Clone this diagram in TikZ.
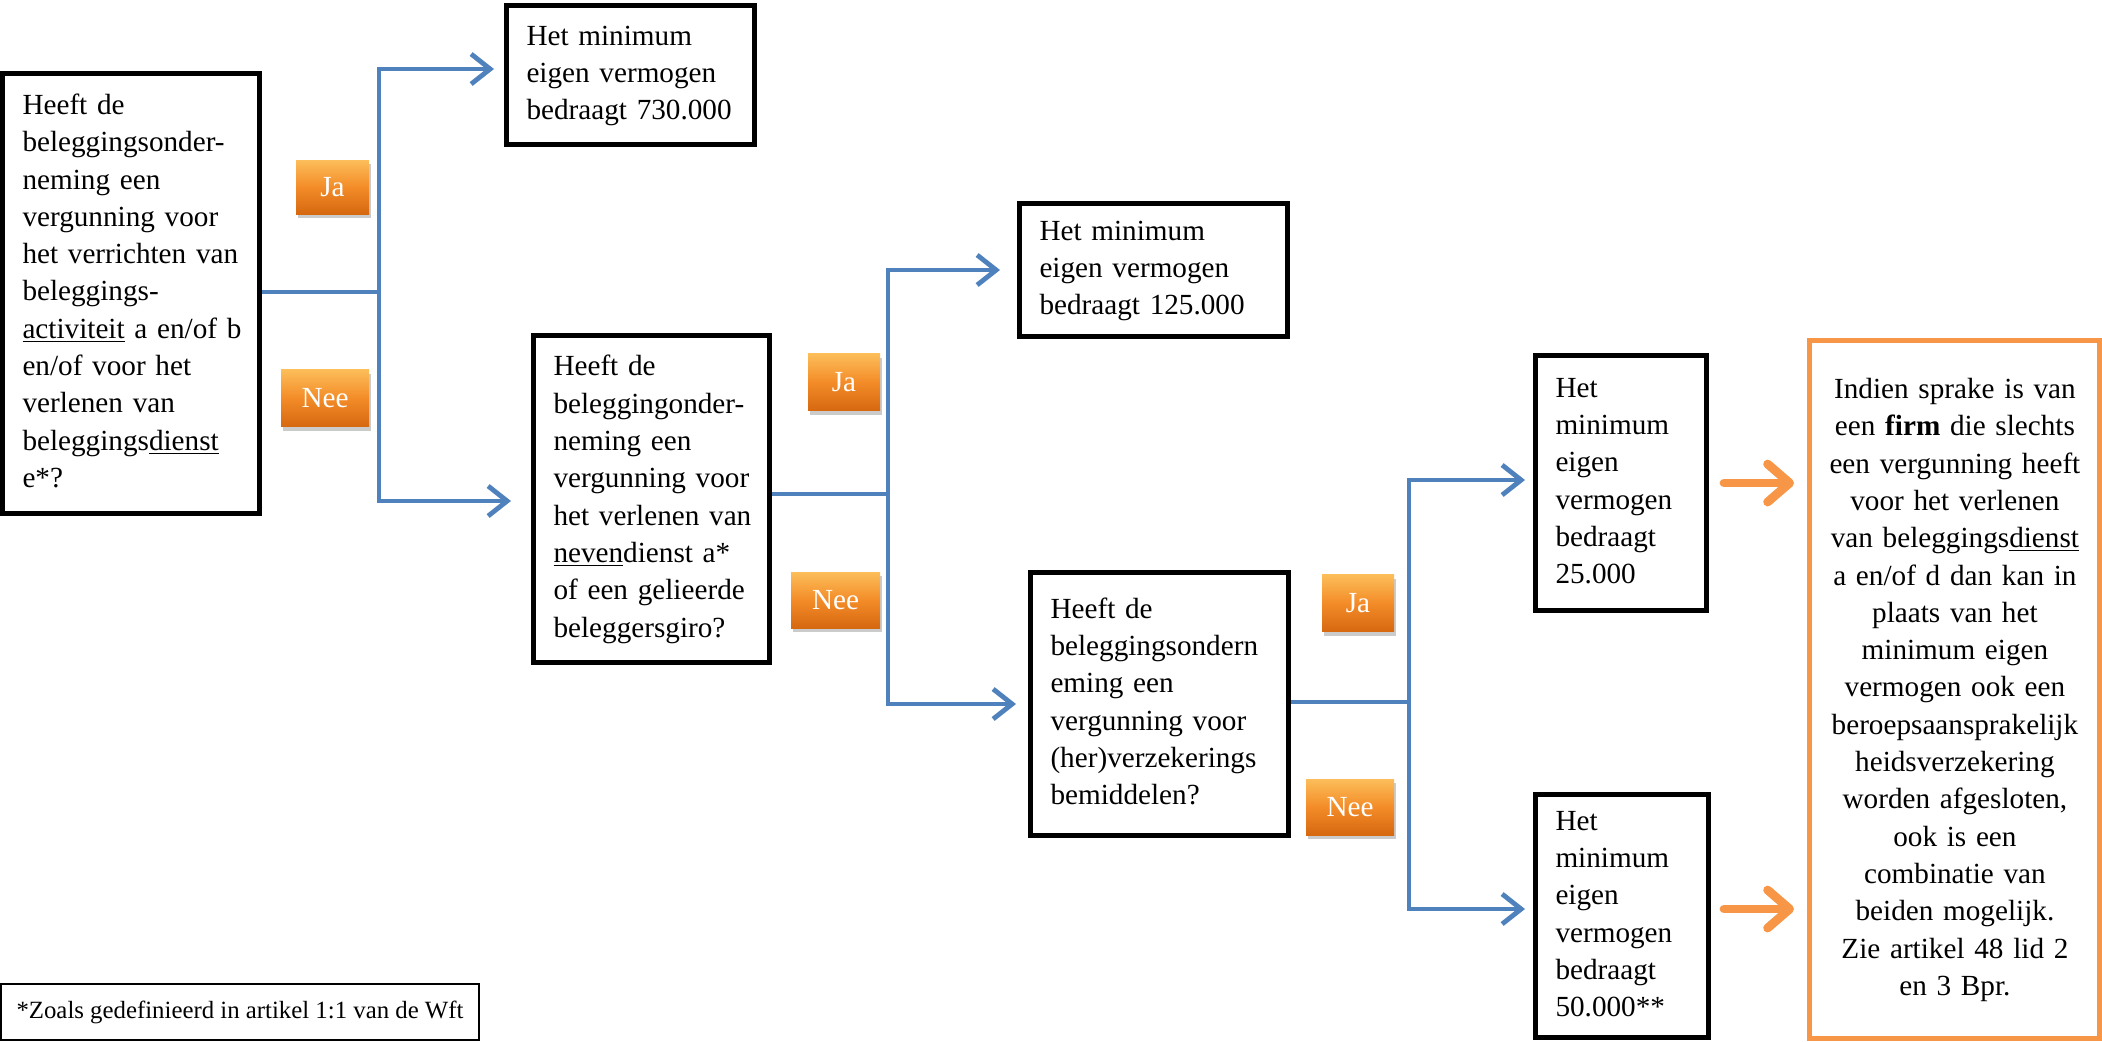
\documentclass[tikz,border=0pt]{standalone}
\usepackage{fontspec}
\setmainfont{Liberation Serif}
\usetikzlibrary{arrows.meta,shadows,calc}

\definecolor{lineblue}{RGB}{79,129,189}
\definecolor{accorange}{RGB}{247,150,70}
\definecolor{lbltop}{RGB}{252,190,90}
\definecolor{lblmid}{RGB}{243,140,40}
\definecolor{lblbot}{RGB}{214,104,16}

\newcommand{\boxlines}[1]{\begin{tabular}{@{}l@{}}#1\end{tabular}}
\newcommand{\boxcentre}[1]{\begin{tabular}{@{}c@{}}#1\end{tabular}}

\begin{document}
\begin{tikzpicture}[x=0.5pt,y=-0.5pt,
  qbox/.style={draw=black, line width=2.5pt, fill=white, inner xsep=10pt, inner ysep=0pt,
    font=\fontsize{14.6}{18.65}\selectfont, align=left},
  obox/.style={draw=accorange, line width=2.5pt, fill=white, inner xsep=10pt, inner ysep=0pt,
    font=\fontsize{14.6}{18.65}\selectfont, align=center},
  yn/.style={top color=lbltop, bottom color=lblbot, middle color=lblmid, text=white,
    inner sep=0pt, font=\fontsize{14.6}{18}\selectfont,
    drop shadow={shadow xshift=1pt, shadow yshift=-2pt, fill=black!45, opacity=.45}},
  conn/.style={draw=lineblue, line width=2.4pt},
  connarrow/.style={conn, -{Straight Barb[length=9.5pt,width=15pt]}},
  oarrow/.style={draw=accorange, line width=4.4pt, line cap=round,
    -{Straight Barb[length=11pt,width=19pt,round]}},
  note/.style={draw=black, line width=0.75pt, fill=white, inner sep=0pt,
    font=\fontsize{12.4}{15}\selectfont, align=center}
]
\useasboundingbox (0,0) rectangle (2102,1041);

% question and result boxes
\node[qbox, minimum width=128.5pt, minimum height=220pt, text width=108.5pt] (b1) at (131,293.5)
  {\boxlines{Heeft de\\ beleggingsonder-\\ neming een\\ vergunning voor\\ het verrichten van\\ beleggings-\\ \underline{activiteit} a en/of b\\ en/of voor het\\ verlenen van\\ beleggings\underline{dienst}\\ e*?}};

\node[qbox, minimum width=124pt, minimum height=69.5pt, text width=104pt] (b730) at (630.5,75)
  {\boxlines{Het minimum\\ eigen vermogen\\ bedraagt 730.000}};

\node[qbox, minimum width=118pt, minimum height=163.5pt, text width=98pt] (b2) at (651.5,499)
  {\boxlines{Heeft de\\ beleggingonder-\\ neming een\\ vergunning voor\\ het verlenen van\\ \underline{neven}dienst a*\\ of een gelieerde\\ beleggersgiro?}};

\node[qbox, minimum width=134pt, minimum height=66.5pt, text width=114pt] (b125) at (1153.5,270)
  {\boxlines{Het minimum\\ eigen vermogen\\ bedraagt 125.000}};

\node[qbox, minimum width=129pt, minimum height=131.5pt, text width=109pt] (b4) at (1159.5,704)
  {\boxlines{Heeft de\\ beleggingsondern\\ eming een\\ vergunning voor\\ (her)verzekerings\\ bemiddelen?}};

\node[qbox, minimum width=85.5pt, minimum height=127.5pt, text width=65.5pt] (b25) at (1621,483)
  {\boxlines{Het\\ minimum\\ eigen\\ vermogen\\ bedraagt\\ 25.000}};

\node[qbox, minimum width=86.5pt, minimum height=121.5pt, text width=66.5pt] (b50) at (1622,916)
  {\boxlines{Het\\ minimum\\ eigen\\ vermogen\\ bedraagt\\ 50.000**}};

\node[obox, minimum width=145pt, minimum height=349pt, text width=125pt] (ob) at (1954.5,689.5)
  {\boxcentre{Indien sprake is van\\ een \textbf{firm} die slechts\\ een vergunning heeft\\ voor het verlenen\\ van beleggings\underline{dienst}\\ a en/of d dan kan in\\ plaats van het\\ minimum eigen\\ vermogen ook een\\ beroepsaansprakelijk\\ heidsverzekering\\ worden afgesloten,\\ ook is een\\ combinatie van\\ beiden mogelijk.\\ Zie artikel 48 lid 2\\ en 3 Bpr.}};

\node[note, minimum width=239pt, minimum height=28pt] (fn) at (240,1012)
  {*Zoals gedefinieerd in artikel 1:1 van de Wft};

% junctions
\coordinate (j1) at (379,292);
\coordinate (j2) at (888,494);
\coordinate (j3) at (1409,702);
\coordinate (o2) at ($(b50.east)+(0,-7)$);

% blue connectors
\draw[conn] (b1.east |- j1) -- (j1);
\draw[connarrow, shorten >=5pt] (j1) |- ([yshift=3pt]b730.west);
\draw[connarrow, shorten >=10pt] (j1) |- ([yshift=-1pt]b2.west);

\draw[conn] (b2.east |- j2) -- (j2);
\draw[connarrow, shorten >=8.5pt] (j2) |- (b125.west);
\draw[connarrow, shorten >=6pt] (j2) |- (b4.west);

\draw[conn] (b4.east |- j3) -- (j3);
\draw[connarrow, shorten >=4pt] (j3) |- ([yshift=1.5pt]b25.west);
\draw[connarrow, shorten >=4pt] (j3) |- (o2 -| b50.west);

% orange arrows
\draw[oarrow, shorten <=7.5pt, shorten >=6.5pt] (b25.east) -- (b25.east -| ob.west);
\draw[oarrow, shorten <=6.5pt, shorten >=6.5pt] (o2) -- (o2 -| ob.west);

% Ja / Nee labels
\node[yn, minimum width=36.5pt, minimum height=27pt] (ja1) at (332.5,187) {Ja};
\node[yn, minimum width=44pt, minimum height=28.5pt] (nee1) at (325,398) {Nee};
\node[yn, minimum width=36pt, minimum height=28.5pt] (ja2) at (844,382) {Ja};
\node[yn, minimum width=44.5pt, minimum height=28pt] (nee2) at (835.5,600) {Nee};
\node[yn, minimum width=36pt, minimum height=28.5pt] (ja3) at (1358,603) {Ja};
\node[yn, minimum width=44pt, minimum height=28pt] (nee3) at (1350,807) {Nee};
\end{tikzpicture}
\end{document}
